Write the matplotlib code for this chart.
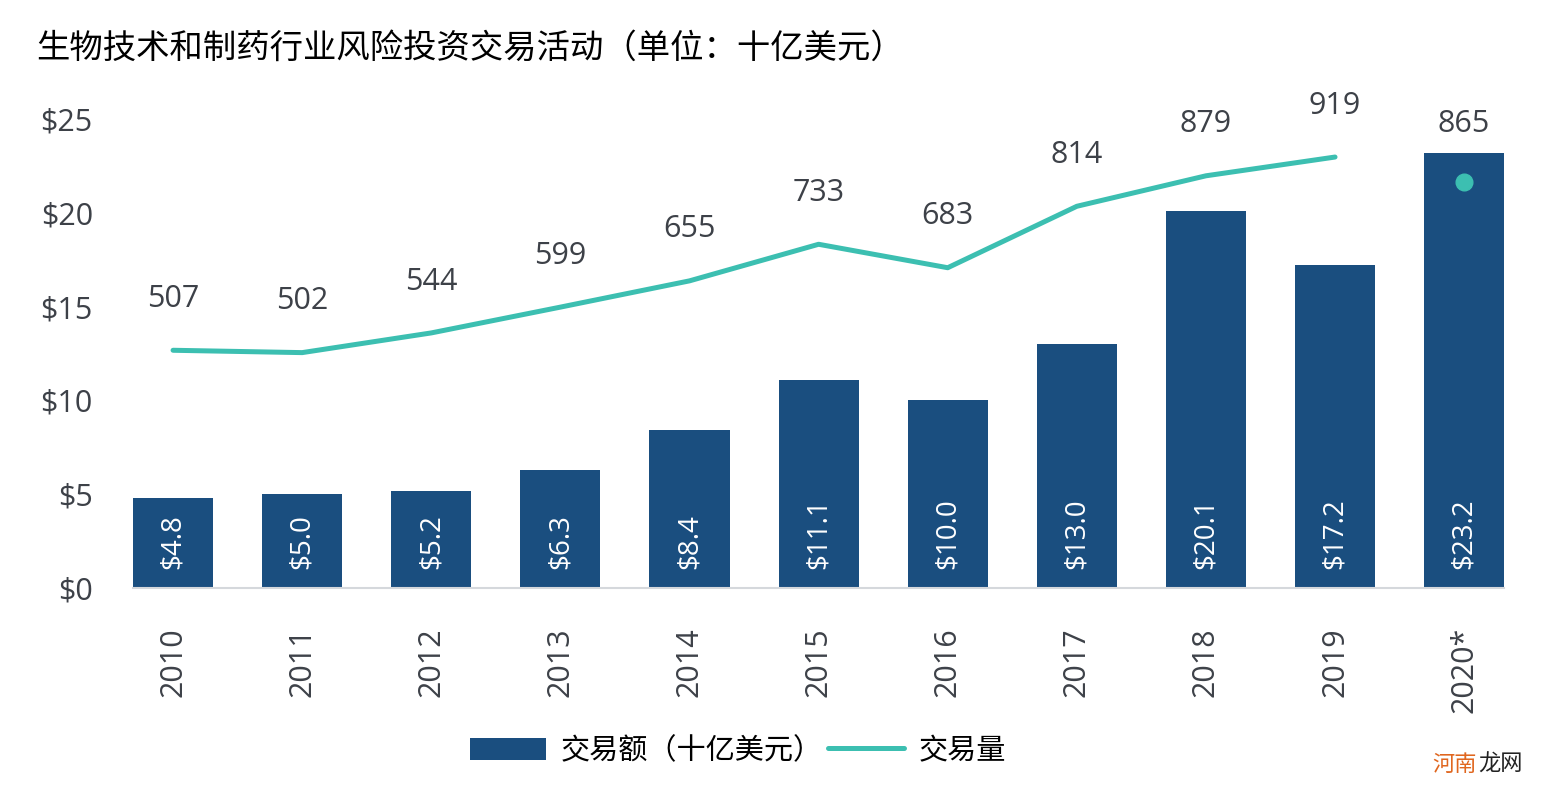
import numpy as np
import matplotlib
matplotlib.use('Agg')
from matplotlib import pyplot as plt

years = ['2010', '2011', '2012', '2013', '2014', '2015', '2016', '2017', '2018', '2019', '2020*']
amounts = [4.8, 5.0, 5.2, 6.3, 8.4, 11.1, 10.0, 13.0, 20.1, 17.2, 23.2]
deals = [507, 502, 544, 599, 655, 733, 683, 814, 879, 919]
deal_2020 = 865

bar_color = '#1a4e7f'
line_color = '#3cbfb1'
text_grey = '#3d4148'

plt.rcParams['font.family'] = ['Open Sans', 'Noto Sans CJK SC', 'DejaVu Sans']

fig = plt.figure(figsize=(15.67, 7.99), dpi=100)
ax = fig.add_axes([0.0849, 0.264, 0.875, 0.587])
ax2 = ax.twinx()

x = np.arange(len(years))
ax.bar(x, amounts, width=0.62, color=bar_color, zorder=2, label='交易额（十亿美元）')
ax.set_ylim(0, 25)
ax.set_xlim(-0.31, 10.31)
ax.set_yticks([0, 5, 10, 15, 20, 25])
ax.set_yticklabels([f'${v}' for v in [0, 5, 10, 15, 20, 25]], fontsize=22, color=text_grey)
ax.set_xticks(x)
ax.set_xticklabels(years, rotation=90, fontsize=22, color=text_grey)
ax.tick_params(axis='x', length=0, pad=28)
ax.tick_params(axis='y', length=0, pad=29)
for s in ['top', 'right', 'left']:
    ax.spines[s].set_visible(False)
ax.spines['bottom'].set_color('#d5d8dc')
ax.spines['bottom'].set_linewidth(1.5)

for xi, v in zip(x, amounts):
    ax.annotate(f'${v:.1f}', (xi, 0), xytext=(0, 14), textcoords='offset points',
                rotation=90, ha='center', va='bottom', color='white', fontsize=20)

# deal count on hidden secondary axis
ax2.set_ylim(0, 1000)
ax2.plot(x[:len(deals)], deals, color=line_color, lw=3.6, solid_capstyle='round',
         label='交易量', zorder=3)
ax2.plot([x[-1]], [deal_2020], 'o', color=line_color, ms=12, zorder=3)
ax2.axis('off')
for xi, v in zip(x[:len(deals)], deals):
    ax2.annotate(str(v), (xi, v), xytext=(0, 37), textcoords='offset points',
                 ha='center', va='center', color=text_grey, fontsize=22)
ax2.annotate(str(deal_2020), (x[-1], deal_2020), xytext=(0, 42), textcoords='offset points',
             ha='center', va='center', color=text_grey, fontsize=22)

fig.text(0.023, 0.94, '生物技术和制药行业风险投资交易活动（单位：十亿美元）',
         fontsize=24, color='black', family=['Noto Sans CJK SC'], va='center')

h1, l1 = ax.get_legend_handles_labels()
h2, l2 = ax2.get_legend_handles_labels()
leg = fig.legend(h1 + h2, l1 + l2, loc='center', bbox_to_anchor=(0.471, 0.06), ncol=2,
                 frameon=False, prop={'family': 'Noto Sans CJK SC', 'size': 21},
                 handlelength=2.6, handleheight=0.8, columnspacing=0.2, handletextpad=0.5)

fig.text(0.914, 0.043, '河南', color='#e0661e', fontsize=16, family=['Noto Sans CJK SC'], va='center')
fig.text(0.9435, 0.043, '龙网', color='#222222', fontsize=16, family=['Noto Sans CJK SC'], va='center')

fig.savefig('out.png', dpi=100)
